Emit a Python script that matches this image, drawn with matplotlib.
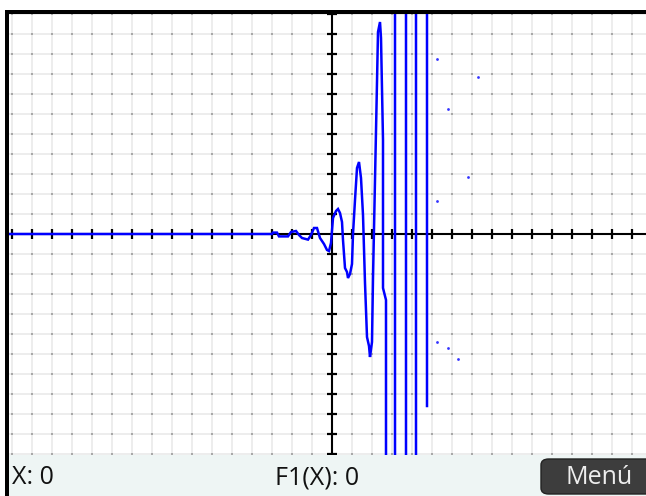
import numpy as np
import matplotlib
matplotlib.use('Agg')
import matplotlib.pyplot as plt
from matplotlib.patches import Rectangle, FancyBboxPatch

# curve F1(X) (values beyond +-11 are off screen)
curve_x = [-17.0, -3.0, -2.95, -2.75, -2.65, -2.2, -2.05, -1.8, -1.65, -1.5, -1.2,
           -1.05, -0.9, -0.75, -0.6, -0.4, -0.25, -0.15, -0.05, 0.05, 0.2, 0.3,
           0.4, 0.5, 0.55, 0.65, 0.75, 0.8, 0.9, 1.0, 1.05, 1.15, 1.25, 1.35,
           1.45, 1.55, 1.65, 1.75, 1.85, 1.9, 2.0, 2.05, 2.15, 2.25, 2.3, 2.4,
           2.45, 2.55, 2.55, 2.7, 2.7, 3.15, 3.15, 3.7, 3.7, 4.2, 4.2, 4.75, 4.75]
curve_y = [0.0, 0.0, 0.07, 0.07, -0.12, -0.12, 0.1, 0.15, -0.05, -0.2, -0.28,
           -0.05, 0.3, 0.3, -0.2, -0.5, -0.8, -0.85, -0.45, 0.8, 1.15, 1.25,
           1.05, 0.6, -0.3, -1.7, -1.9, -2.2, -2.0, -1.5, 0.0, 1.7, 3.3, 3.6,
           2.8, 0.95, -2.45, -5.15, -5.6, -6.15, -5.4, -2.2, 2.7, 7.6, 10.1, 10.6,
           9.8, 4.7, -2.7, -3.3, -15, -15, 15, 15, -15, -15, 15, 15, -8.6]

# isolated points drawn after the curve
dots_x = [5.25, 5.25, 5.25, 5.8, 5.8, 6.3, 6.8, 7.3]
dots_y = [8.75, 1.65, -5.4, 6.25, -5.7, -6.25, 2.85, 7.85]

status_x = 'X: 0'
status_f = 'F1(X): 0'
menu_label = 'Menú'

W, H = 646, 496


def fx(px):
    return px / W


def fy(py):
    return 1 - py / H


fig = plt.figure(figsize=(W / 100, H / 100), dpi=100)
fig.patch.set_facecolor('white')

ax = fig.add_axes([fx(9), fy(455), fx(646) - fx(9), fy(14) - fy(455)])
ax.set_xlim(-16.15, 15.7)
ax.set_ylim(-11.05, 11.0)

# grid every unit
xt = np.arange(-16, 16)
yt = np.arange(-11, 12)
for v in xt:
    ax.axvline(v, color='#ededed', lw=1.4, zorder=0)
for v in yt:
    ax.axhline(v, color='#ededed', lw=1.4, zorder=0)
gx, gy = np.meshgrid(xt, yt)
ax.scatter(gx.ravel(), gy.ravel(), s=2.5, marker='s', color='#a8a8a8',
           linewidths=0, zorder=1)

# axes through the origin with ticks
for s in ['top', 'right']:
    ax.spines[s].set_visible(False)
ax.spines['left'].set_position('zero')
ax.spines['bottom'].set_position('zero')
ax.spines['left'].set_linewidth(1.5)
ax.spines['bottom'].set_linewidth(1.5)
ax.set_xticks(xt[xt != 0])
ax.set_yticks(yt[yt != 0])
ax.tick_params(direction='inout', length=7.5, width=1.6, color='black',
               labelbottom=False, labelleft=False)

ax.plot(curve_x, curve_y, color='#0000ff', lw=1.8, zorder=3,
        solid_joinstyle='miter')
ax.scatter(dots_x, dots_y, s=4, color='#3333ff', linewidths=0, zorder=3)

# frame borders
fig.add_artist(Rectangle((fx(5), fy(14)), fx(646) - fx(5), fy(10) - fy(14),
                         transform=fig.transFigure, color='black', lw=0))
fig.add_artist(Rectangle((fx(5), 0), fx(9) - fx(5), fy(10),
                         transform=fig.transFigure, color='black', lw=0))

# status bar
fig.add_artist(Rectangle((fx(9), 0), 1, fy(455), transform=fig.transFigure,
                         color='#eef5f4', lw=0))
fig.text(fx(12), fy(478), status_x, fontsize=18, family='Open Sans',
         va='center', ha='left', color='#111111')
fig.text(fx(275), fy(478), status_f, fontsize=18, family='Open Sans',
         va='center', ha='left', color='#111111')
fig.add_artist(FancyBboxPatch((fx(541), fy(494)), fx(120), fy(459) - fy(494),
                              boxstyle='round,pad=0,rounding_size=0.012',
                              transform=fig.transFigure, fc='#3d3d3d',
                              ec='#222222', lw=1))
fig.text(fx(599), fy(478), menu_label, fontsize=18, family='Open Sans',
         va='center', ha='center', color='#eeeeee')

fig.savefig('out.png', dpi=100)
